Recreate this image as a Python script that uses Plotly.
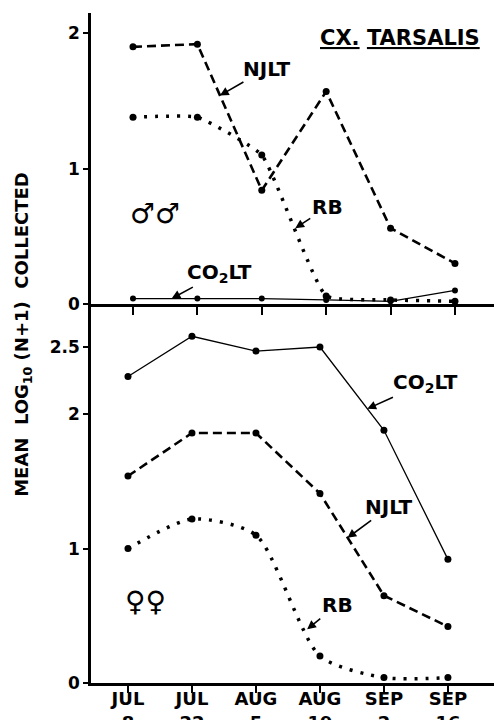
import plotly.graph_objects as go

# ---- data ----
dates = ["JUL<br>8", "JUL<br>22", "AUG<br>5", "AUG<br>19", "SEP<br>2", "SEP<br>16"]
xpos = [0, 1, 2, 3, 4, 5]

male_njlt = [1.90, 1.92, 0.84, 1.57, 0.56, 0.30]
male_rb = [1.38, 1.38, 1.10, 0.06, 0.03, 0.02]
male_co2 = [0.04, 0.04, 0.04, 0.03, 0.02, 0.10]

fem_co2 = [2.28, 2.58, 2.47, 2.50, 1.88, 0.92]
fem_njlt = [1.54, 1.86, 1.86, 1.41, 0.65, 0.42]
fem_rb = [1.00, 1.22, 1.10, 0.20, 0.04, 0.04]

FONT = "DejaVu Sans"
BLK = "black"

fig = go.Figure()

def add(y, xa, ya, dash, width, shape="linear", msize=7, smooth=0.8):
    fig.add_trace(go.Scatter(
        x=xpos, y=y, xaxis=xa, yaxis=ya, mode="lines+markers",
        line=dict(color=BLK, width=width, dash=dash, shape=shape, smoothing=smooth),
        marker=dict(color=BLK, size=msize), showlegend=False, cliponaxis=False,
        hoverinfo="skip"))

add(male_njlt, "x", "y", "9px,5px", 2.6)
add(male_rb, "x", "y", "3px,8px", 3.5, shape="spline", smooth=0.4)
add(male_co2, "x", "y", "solid", 1.3, msize=6)

add(fem_co2, "x2", "y2", "solid", 1.3)
add(fem_njlt, "x2", "y2", "9px,5px", 2.6)
add(fem_rb, "x2", "y2", "3px,8px", 3.5, shape="spline", smooth=0.7)

split = (683 - 304) / 670.0

axis_common = dict(showline=True, linecolor=BLK, linewidth=2.5, ticks="outside",
                   tickcolor=BLK, tickwidth=2, showgrid=False, zeroline=False,
                   automargin=False,
                   tickfont=dict(family=FONT, size=17, color=BLK, weight="bold"))

fig.update_layout(
    width=494, height=720,
    margin=dict(l=91, r=0, t=13, b=37, autoexpand=False),
    paper_bgcolor="white", plot_bgcolor="white",
    xaxis=dict(axis_common, domain=[0, 1], range=[-0.652, 5.606], anchor="y",
               tickvals=xpos, showticklabels=False, ticklen=8),
    yaxis=dict(axis_common, domain=[split, 1], range=[0, 2.15], anchor="x",
               tickvals=[0, 1, 2], ticktext=["0", "1", "2"], ticklen=5),
    xaxis2=dict(axis_common, domain=[0, 1], range=[-0.578, 5.72], anchor="y2",
                tickvals=xpos, ticktext=dates, ticklen=7, ticklabelstandoff=-9,
                tickfont=dict(family=FONT, size=18, color=BLK, weight="bold")),
    yaxis2=dict(axis_common, domain=[0, split], range=[0, 2.82], anchor="x2",
                tickvals=[0, 1, 2, 2.5], ticktext=["0", "1", "2", "2.5"], ticklen=5),
)

lab_font = dict(family=FONT, size=20, color=BLK, weight="bold")

def arrow(text, x, y, xr, yr, ax, ay):
    fig.add_annotation(text=text, x=x, y=y, xref=xr, yref=yr, ax=ax, ay=ay,
                       showarrow=True, arrowhead=2, arrowsize=1.1, arrowwidth=1.6,
                       arrowcolor=BLK, standoff=0, font=lab_font)

arrow("NJLT", 1.35, 1.54, "x", "y", 47, -27)
arrow("RB", 2.52, 0.56, "x", "y", 32, -21)
arrow("CO<sub>2</sub>LT", 0.6, 0.04, "x", "y", 48, -26)

arrow("CO<sub>2</sub>LT", 3.74, 2.04, "x2", "y2", 58, -26)
arrow("NJLT", 3.43, 1.08, "x2", "y2", 42, -31)
arrow("RB", 2.80, 0.40, "x2", "y2", 30, -24)

def label(text, x, y, size, weight="bold", angle=0):
    fig.add_annotation(text=text, x=x, y=y, xref="paper", yref="paper",
                       xanchor="center", yanchor="middle", textangle=angle,
                       showarrow=False,
                       font=dict(family=FONT, size=size, color=BLK, weight=weight))

label("<u>CX.</u> <u>TARSALIS</u>", 0.767, 0.962, 21)
label("♂♂", 0.159, 0.701, 28, weight="normal")
label("♀♀", 0.136, 0.121, 28, weight="normal")
label("MEAN  LOG<sub>10</sub> (N+1)  COLLECTED", -0.169, 0.521, 18, angle=-90)

fig.write_html("out.html", config={"displayModeBar": False},
               post_script="document.body.style.margin='0';document.body.style.overflow='hidden';")
